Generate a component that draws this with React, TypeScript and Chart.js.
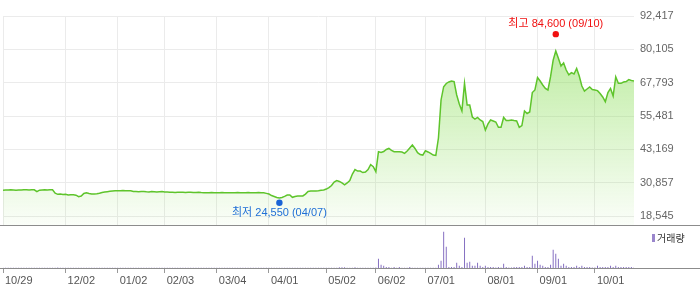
import React, { useEffect, useRef } from 'react';
import { Chart, registerables } from 'chart.js';

Chart.register(...registerables);

// ---- data ----
const TICK_INDEX = [0, 24, 44, 62, 82, 102, 124, 143, 162, 185, 205, 227];
const TICK_LABELS = ['10/29', '12/02', '01/02', '02/03', '03/04', '04/01', '05/02', '06/02', '07/01', '08/01', '09/01', '10/01'];
const PRICE_TICKS = [18545, 30857, 43169, 55481, 67793, 80105, 92417];
const PRICE_MIN = 15221;
const PRICE_MAX = 92417;
const VOLUME_MAX = 4200;

const HIGH_INDEX = 212;
const HIGH_VALUE = 84600;
const HIGH_DATE = '09/10';
const LOW_INDEX = 106;
const LOW_VALUE = 24550;
const LOW_DATE = '04/07';

const CLOSE = [
  28100, 28150, 28150, 28200, 28150, 28100, 28150, 28150, 28200, 28200,
  28150, 28250, 28200, 27550, 28100, 28150, 28200, 28150, 28200, 28250,
  26950, 26550, 26650, 26500, 26600, 26300, 26400, 26350, 26250, 25700,
  25900, 26850, 27150, 26850, 26650, 26700, 26800, 26930, 27200, 27400,
  27520, 27650, 27780, 27850, 27900, 27900, 27950, 27900, 27850, 27900,
  27600, 27550, 27500, 27550, 27600, 27500, 27450, 27550, 27500, 27450,
  27500, 27550, 27450, 27400, 27350, 27300, 27250, 27300, 27350, 27300,
  27250, 27300, 27300, 27200, 27250, 27300, 27200, 27150, 27100, 27150,
  27200, 27150, 27100, 27150, 27200, 27150, 27100, 27150, 27150, 27100,
  27200, 27150, 27100, 27150, 27200, 27150, 27100, 27150, 27200, 27150,
  27100, 26900, 26650, 26100, 25750, 25400, 25200, 25400, 25800, 26300,
  26300, 25450, 25750, 25950, 25950, 25950, 26650, 27600, 27800, 27800,
  27750, 27850, 28050, 28150, 28500, 29050, 29800, 31100, 31650, 31300,
  30750, 30050, 30750, 31650, 34050, 35700, 35150, 35150, 34600, 34800,
  35700, 37550, 36750, 34900, 42300, 42000, 42350, 43100, 43500, 42800,
  42300, 42300, 42250, 42150, 41700, 42550, 43650, 44750, 43500, 41950,
  41250, 41050, 42650, 42200, 41700, 41050, 40900, 47350, 61400, 66300,
  67500, 68050, 68400, 68200, 63250, 59900, 57350, 67550, 59550, 59550,
  55100, 54350, 54950, 54000, 53450, 50300, 52550, 54000, 53650, 53250,
  51300, 51300, 54950, 53800, 53800, 54000, 53800, 53650, 51300, 51950,
  57350, 56400, 56950, 64150, 65100, 69700, 68400, 66950, 65700, 65100,
  70000, 76150, 79500, 76800, 73950, 75050, 72450, 70650, 71500, 71000,
  73050, 70250, 66550, 64700, 65450, 66200, 65250, 65100, 64850, 63800,
  62500, 60750, 64150, 65650, 62850, 69900, 67550, 67550, 68050, 68200,
  68950, 68600, 68400,
];

const VOLUME = [
  20, 20, 20, 20, 20, 20, 20, 20, 20, 20,
  20, 20, 20, 20, 20, 20, 20, 20, 20, 20,
  20, 60, 20, 20, 20, 20, 20, 20, 20, 20,
  20, 20, 20, 20, 20, 20, 20, 20, 20, 20,
  20, 20, 20, 20, 20, 20, 20, 20, 20, 20,
  20, 20, 20, 20, 20, 20, 20, 20, 20, 20,
  20, 20, 20, 20, 20, 20, 20, 20, 20, 20,
  20, 20, 20, 20, 20, 20, 20, 20, 20, 20,
  20, 20, 20, 20, 20, 20, 20, 20, 20, 20,
  20, 20, 20, 20, 20, 20, 20, 20, 20, 20,
  20, 20, 20, 20, 20, 20, 30, 20, 20, 20,
  20, 20, 20, 20, 20, 20, 20, 20, 20, 20,
  20, 20, 20, 20, 20, 20, 20, 20, 30, 80,
  80, 80, 20, 20, 20, 80, 20, 20, 20, 20,
  20, 20, 20, 60, 930, 330, 230, 100, 100, 30,
  100, 30, 100, 30, 30, 30, 100, 30, 30, 30,
  30, 30, 30, 30, 30, 30, 30, 330, 730, 3630,
  2130, 100, 100, 100, 530, 230, 100, 3030, 530, 630,
  230, 230, 530, 230, 100, 230, 100, 100, 100, 40,
  100, 40, 430, 100, 40, 40, 100, 100, 100, 100,
  230, 100, 100, 1230, 430, 730, 330, 230, 100, 100,
  330, 1830, 1430, 930, 230, 430, 230, 100, 100, 100,
  230, 100, 230, 100, 100, 100, 40, 40, 230, 100,
  100, 100, 100, 230, 100, 230, 100, 100, 100, 100,
  100, 100, 40,
];

// ---- style ----
const FONT = "'Liberation Sans', 'Noto Sans CJK KR', Arial, sans-serif";
const GRID = '#ebebeb';
const LINE = '#5ec42b';
const VOL = '#8670c2';
const LAST = CLOSE.length - 1;

const fmt = (v: number) => Number(v).toLocaleString('en-US');

const markerPlugin = {
  id: 'markers',
  afterDatasetsDraw(chart: any) {
    const { ctx, scales } = chart;
    const xs = scales.x;
    const ys = scales.y;
    const items = [
      { i: HIGH_INDEX, v: HIGH_VALUE, label: `최고 ${fmt(HIGH_VALUE)} (${HIGH_DATE})`, dot: '#f01010', text: '#f01010', dotShift: -3, textShift: -10 },
      { i: LOW_INDEX, v: LOW_VALUE, label: `최저 ${fmt(LOW_VALUE)} (${LOW_DATE})`, dot: '#1a64d6', text: '#1f6fd6', dotShift: 3, textShift: 10.5 },
    ];
    items.forEach((m) => {
      const px = xs.getPixelForValue(m.i);
      const py = ys.getPixelForValue(m.v) + m.dotShift;
      ctx.save();
      ctx.fillStyle = m.dot;
      ctx.beginPath();
      ctx.arc(px, py, 3.2, 0, Math.PI * 2);
      ctx.fill();
      ctx.font = `11px ${FONT}`;
      ctx.fillStyle = m.text;
      ctx.textAlign = 'center';
      ctx.textBaseline = 'middle';
      ctx.fillText(m.label, px, py + m.textShift);
      ctx.restore();
    });
  },
};

export default function App() {
  const priceRef = useRef<HTMLCanvasElement>(null);
  const volRef = useRef<HTMLCanvasElement>(null);

  useEffect(() => {
    const xTicks = (s: any) => {
      s.ticks = TICK_INDEX.map((value) => ({ value }));
    };
    const xLabel = (value: any) => {
      const k = TICK_INDEX.indexOf(Number(value));
      return k >= 0 ? TICK_LABELS[k] : '';
    };

    const price = new Chart(priceRef.current!, {
      type: 'line',
      data: {
        datasets: [
          {
            data: CLOSE.map((y, x) => ({ x, y })),
            borderColor: LINE,
            borderWidth: 1.5,
            pointRadius: 0,
            tension: 0,
            fill: 'start',
            backgroundColor: (c: any) => {
              const area = c.chart.chartArea;
              if (!area) return 'rgba(140,222,90,0.3)';
              const g = c.chart.ctx.createLinearGradient(0, area.top, 0, area.bottom);
              g.addColorStop(0, 'rgba(140,222,90,0.65)');
              g.addColorStop(1, 'rgba(140,222,90,0.04)');
              return g;
            },
          },
        ],
      },
      options: {
        animation: false,
        responsive: false,
        maintainAspectRatio: false,
        layout: { padding: { left: 3, top: 16, right: 0, bottom: 0 } },
        plugins: { legend: { display: false }, tooltip: { enabled: false } },
        scales: {
          x: {
            type: 'linear',
            min: 0,
            max: LAST,
            offset: false,
            afterBuildTicks: xTicks,
            afterFit: (s: any) => {
              s.height = 0;
              s.paddingLeft = 0;
              s.paddingRight = 0;
            },
            ticks: { display: false },
            grid: { color: GRID, drawTicks: false, offset: false },
            border: { display: false },
          },
          y: {
            position: 'right',
            min: PRICE_MIN,
            max: PRICE_MAX,
            afterBuildTicks: (s: any) => {
              s.ticks = PRICE_TICKS.map((value) => ({ value }));
            },
            afterFit: (s: any) => {
              s.width = 66;
              s.paddingTop = 0;
              s.paddingBottom = 0;
            },
            ticks: {
              padding: 6,
              color: '#666',
              font: { family: FONT, size: 11 },
              callback: (v: any) => fmt(v),
            },
            grid: { color: GRID, drawTicks: false },
            border: { display: false },
          },
        },
      },
      plugins: [markerPlugin],
    } as any);

    const vol = new Chart(volRef.current!, {
      type: 'bar',
      data: {
        datasets: [
          {
            data: VOLUME.map((y, x) => ({ x, y })),
            backgroundColor: VOL,
            barThickness: 1,
            borderWidth: 0,
            inflateAmount: 0,
          },
        ],
      },
      options: {
        animation: false,
        responsive: false,
        maintainAspectRatio: false,
        layout: { padding: { left: 3, top: 0, right: 66, bottom: 0 } },
        plugins: { legend: { display: false }, tooltip: { enabled: false } },
        scales: {
          x: {
            type: 'linear',
            min: 0,
            max: LAST,
            offset: false,
            afterBuildTicks: xTicks,
            afterFit: (s: any) => {
              s.height = 21;
              s.paddingLeft = 0;
              s.paddingRight = 0;
            },
            ticks: {
              align: 'start',
              padding: 1,
              labelOffset: 2,
              autoSkip: false,
              maxRotation: 0,
              color: '#555',
              font: { family: FONT, size: 11 },
              callback: xLabel,
            },
            grid: { display: true, drawOnChartArea: false, drawTicks: true, tickLength: 5, color: '#999', offset: false },
            border: { display: false },
          },
          y: { display: false, min: 0, max: VOLUME_MAX },
        },
      },
    } as any);

    return () => {
      price.destroy();
      vol.destroy();
    };
  }, []);

  return (
    <div style={{ position: 'absolute', left: 0, top: 0, width: 700, height: 289, background: '#fff', overflow: 'hidden' }}>
      <canvas ref={priceRef} width={700} height={225} style={{ position: 'absolute', left: 0, top: 0, display: 'block' }} />
      <div style={{ position: 'absolute', left: 0, top: 225, width: 700, height: 1, background: '#8c8c8c' }} />
      <canvas ref={volRef} width={700} height={63} style={{ position: 'absolute', left: 0, top: 226, display: 'block' }} />
      <div style={{ position: 'absolute', left: 0, top: 268, width: 700, height: 1, background: '#8c8c8c' }} />
      <div
        style={{
          position: 'absolute',
          left: 652,
          top: 231,
          height: 13,
          display: 'flex',
          alignItems: 'center',
          fontFamily: "'Noto Sans CJK KR', sans-serif",
          fontSize: 10,
          color: '#333',
          whiteSpace: 'nowrap',
        }}
      >
        <span style={{ display: 'inline-block', width: 3, height: 8, background: '#9a86cc', marginRight: 2 }} />
        거래량
      </div>
    </div>
  );
}
